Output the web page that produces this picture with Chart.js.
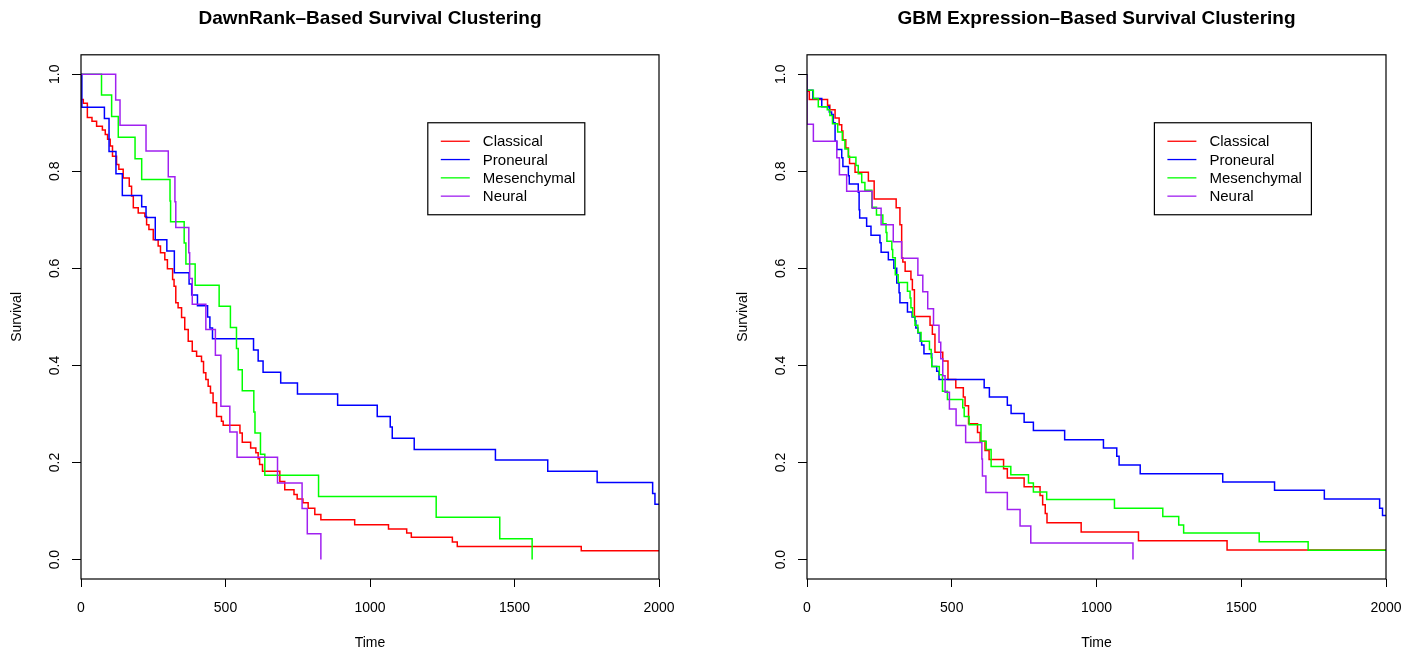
<!DOCTYPE html>
<html>
<head>
<meta charset="utf-8">
<script src="https://cdn.jsdelivr.net/npm/chart.js@4"></script>
<style>
  html, body { margin: 0; padding: 0; background: #fff; }
  #wrap { position: relative; width: 1421px; height: 656px; }
  canvas { position: absolute; top: 0; }
</style>
</head>
<body>
<div id="wrap">
  <canvas id="dawnChart" width="711" height="656" style="left:0"></canvas>
  <canvas id="gbmChart" width="710" height="656" style="left:711px"></canvas>
</div>
<script>
// groups + colours (R: red, blue, green, purple)
var groups = ['Classical', 'Proneural', 'Mesenchymal', 'Neural'];
var groupColors = ['#ff0000', '#0000ff', '#00ff00', '#a020f0'];

var xTicks = [0, 500, 1000, 1500, 2000];
var xTickLabels = ['0', '500', '1000', '1500', '2000'];
var yTicks = [0, 0.2, 0.4, 0.6, 0.8, 1.0];
var yTickLabels = ['0.0', '0.2', '0.4', '0.6', '0.8', '1.0'];

// legend top-left corner, in data units (x = time, y = survival)
var legendAt = [1200, 0.9];

// ---- DawnRank-based clusters (time, survival) ----
var dawnClassicalT = [0, 0, 8, 22, 38, 54, 74, 84, 92, 101, 109, 123, 131, 146, 167, 175, 181, 198, 221, 227, 235, 250, 267, 275, 290, 299, 317, 322, 328, 336, 348, 359, 371, 385, 400, 417, 424, 432, 440, 448, 457, 469, 486, 492, 550, 558, 587, 605, 613, 618, 628, 688, 705, 737, 748, 768, 786, 809, 830, 947, 1064, 1127, 1143, 1285, 1302, 1731, 2000];
var dawnClassicalS = [1, 0.948, 0.94, 0.911, 0.903, 0.893, 0.885, 0.876, 0.866, 0.852, 0.831, 0.814, 0.804, 0.786, 0.769, 0.749, 0.725, 0.714, 0.707, 0.69, 0.68, 0.659, 0.646, 0.632, 0.618, 0.599, 0.577, 0.563, 0.529, 0.519, 0.499, 0.474, 0.45, 0.429, 0.419, 0.408, 0.385, 0.371, 0.357, 0.343, 0.323, 0.295, 0.285, 0.277, 0.261, 0.242, 0.23, 0.22, 0.208, 0.196, 0.182, 0.161, 0.144, 0.134, 0.125, 0.117, 0.106, 0.093, 0.082, 0.072, 0.063, 0.055, 0.046, 0.036, 0.027, 0.018, 0.018];

var dawnProneuralT = [0, 3, 81, 97, 121, 143, 210, 225, 257, 297, 323, 374, 383, 403, 438, 446, 455, 597, 613, 630, 691, 749, 888, 1025, 1070, 1077, 1153, 1434, 1615, 1786, 1978, 1986, 2000];
var dawnProneuralS = [1, 0.932, 0.909, 0.841, 0.795, 0.75, 0.727, 0.705, 0.659, 0.636, 0.591, 0.568, 0.545, 0.523, 0.5, 0.477, 0.455, 0.432, 0.409, 0.386, 0.364, 0.341, 0.318, 0.295, 0.273, 0.25, 0.227, 0.205, 0.182, 0.159, 0.136, 0.114, 0.114];

var dawnMesenchymalT = [0, 71, 106, 129, 187, 210, 308, 310, 357, 363, 395, 478, 517, 538, 544, 558, 598, 602, 621, 636, 822, 1229, 1449, 1561];
var dawnMesenchymalS = [1, 0.957, 0.913, 0.870, 0.826, 0.783, 0.739, 0.696, 0.652, 0.609, 0.565, 0.522, 0.478, 0.435, 0.391, 0.348, 0.304, 0.261, 0.217, 0.174, 0.130, 0.087, 0.043, 0];

var dawnNeuralT = [0, 120, 135, 225, 302, 325, 328, 373, 376, 385, 432, 465, 484, 515, 540, 680, 765, 783, 830];
var dawnNeuralS = [1, 0.947, 0.895, 0.842, 0.789, 0.737, 0.684, 0.632, 0.579, 0.526, 0.474, 0.421, 0.316, 0.263, 0.211, 0.158, 0.105, 0.053, 0];

// ---- GBM expression-based clusters (time, survival) ----
var gbmClassicalT = [0, 0, 8, 71, 79, 97, 111, 120, 124, 134, 143, 147, 166, 212, 232, 308, 321, 327, 331, 339, 359, 364, 371, 425, 433, 442, 469, 487, 514, 540, 546, 558, 589, 598, 615, 629, 679, 692, 750, 805, 814, 823, 829, 947, 1145, 1451, 2000];
var gbmClassicalS = [1, 0.965, 0.948, 0.936, 0.927, 0.91, 0.896, 0.883, 0.865, 0.848, 0.831, 0.816, 0.798, 0.78, 0.743, 0.725, 0.69, 0.622, 0.613, 0.594, 0.577, 0.556, 0.501, 0.483, 0.464, 0.427, 0.409, 0.371, 0.354, 0.335, 0.317, 0.28, 0.262, 0.244, 0.225, 0.206, 0.187, 0.168, 0.15, 0.132, 0.113, 0.095, 0.076, 0.057, 0.039, 0.02, 0.02];

var gbmProneuralT = [0, 0, 20, 51, 77, 85, 91, 97, 103, 120, 124, 143, 146, 177, 180, 182, 206, 221, 252, 256, 281, 300, 310, 318, 321, 347, 363, 373, 376, 383, 391, 396, 404, 431, 448, 456, 612, 630, 692, 705, 750, 782, 890, 1024, 1070, 1078, 1151, 1436, 1615, 1787, 1978, 1988, 2000];
var gbmProneuralS = [1, 0.967, 0.95, 0.933, 0.922, 0.917, 0.9, 0.862, 0.845, 0.828, 0.81, 0.791, 0.774, 0.757, 0.721, 0.704, 0.687, 0.668, 0.653, 0.633, 0.618, 0.6, 0.57, 0.55, 0.529, 0.51, 0.5, 0.492, 0.477, 0.467, 0.45, 0.442, 0.424, 0.398, 0.388, 0.371, 0.354, 0.335, 0.318, 0.301, 0.283, 0.266, 0.247, 0.23, 0.213, 0.195, 0.177, 0.16, 0.143, 0.125, 0.106, 0.091, 0.091];

var gbmMesenchymalT = [0, 0, 22, 39, 70, 79, 88, 106, 122, 131, 143, 169, 177, 189, 200, 224, 240, 262, 273, 276, 293, 296, 305, 315, 347, 356, 359, 365, 373, 383, 394, 423, 429, 431, 457, 468, 485, 538, 543, 560, 601, 619, 636, 704, 765, 782, 828, 1062, 1229, 1284, 1301, 1562, 1731, 2000];
var gbmMesenchymalS = [1, 0.967, 0.95, 0.933, 0.927, 0.915, 0.898, 0.881, 0.864, 0.846, 0.829, 0.812, 0.795, 0.777, 0.761, 0.726, 0.71, 0.692, 0.674, 0.656, 0.639, 0.622, 0.587, 0.571, 0.553, 0.539, 0.519, 0.501, 0.483, 0.468, 0.45, 0.433, 0.416, 0.398, 0.381, 0.347, 0.33, 0.313, 0.295, 0.278, 0.244, 0.227, 0.192, 0.175, 0.158, 0.139, 0.124, 0.106, 0.089, 0.071, 0.055, 0.037, 0.019, 0.019];

var gbmNeuralT = [0, 0, 22, 103, 112, 137, 225, 256, 298, 327, 383, 400, 417, 437, 456, 462, 469, 477, 492, 515, 548, 604, 606, 618, 692, 736, 773, 1126];
var gbmNeuralS = [1, 0.897, 0.862, 0.828, 0.793, 0.759, 0.724, 0.69, 0.655, 0.621, 0.586, 0.552, 0.517, 0.483, 0.448, 0.414, 0.379, 0.345, 0.31, 0.276, 0.241, 0.207, 0.172, 0.138, 0.103, 0.069, 0.034, 0];

Chart.defaults.font.family = '"Liberation Sans", Arial, Helvetica, sans-serif';
Chart.defaults.color = '#000';

// R style box, rotated y labels and legend
var rStylePlugin = {
    id: 'rStyle',
    afterDatasetsDraw: function (chart) {
        var ctx = chart.ctx;
        var a = chart.chartArea;
        var xs = chart.scales.x, ys = chart.scales.y;
        ctx.save();
        ctx.strokeStyle = '#000';
        ctx.lineWidth = 1.2;
        ctx.strokeRect(a.left, a.top, a.right - a.left, a.bottom - a.top);

        ctx.fillStyle = '#000';
        ctx.font = '14px "Liberation Sans", Arial, sans-serif';
        ctx.textAlign = 'center';
        ctx.textBaseline = 'middle';
        yTicks.forEach(function (v, i) {
            ctx.save();
            ctx.translate(a.left - 26, ys.getPixelForValue(v));
            ctx.rotate(-Math.PI / 2);
            ctx.fillText(yTickLabels[i], 0, 0);
            ctx.restore();
        });

        // legend
        var lx = xs.getPixelForValue(legendAt[0]);
        var ly = ys.getPixelForValue(legendAt[1]);
        ctx.fillStyle = '#fff';
        ctx.fillRect(lx, ly, 157, 92);
        ctx.strokeRect(lx, ly, 157, 92);
        ctx.font = '15px "Liberation Sans", Arial, sans-serif';
        ctx.textAlign = 'left';
        groups.forEach(function (g, i) {
            var yy = ly + 18.5 + i * 18.3;
            ctx.strokeStyle = groupColors[i];
            ctx.lineWidth = 1.3;
            ctx.beginPath();
            ctx.moveTo(lx + 13, yy);
            ctx.lineTo(lx + 42, yy);
            ctx.stroke();
            ctx.fillStyle = '#000';
            ctx.fillText(g, lx + 55, yy + 1);
        });
        ctx.restore();
    }
};

function makeChart(id, title, times, survs, padLeft, padRight) {
    var ctx = document.getElementById(id).getContext('2d');
    var datasets = groups.map(function (g, i) {
        return {
            label: g,
            data: times[i].map(function (t, j) { return { x: t, y: survs[i][j] }; }),
            borderColor: groupColors[i],
            borderWidth: 1.5,
            pointRadius: 0,
            stepped: 'before',
            fill: false,
            order: 3 - i
        };
    });
    return new Chart(ctx, {
        type: 'line',
        data: { datasets: datasets },
        plugins: [rStylePlugin],
        options: {
            responsive: false,
            animation: false,
            devicePixelRatio: 1,
            layout: { padding: { left: padLeft, right: padRight, top: 0, bottom: 0 } },
            plugins: {
                legend: { display: false },
                tooltip: { enabled: false },
                title: {
                    display: true,
                    text: title,
                    fullSize: false,
                    color: '#000',
                    font: { size: 19, weight: 'bold' },
                    padding: { top: 7, bottom: 25 }
                }
            },
            scales: {
                x: {
                    type: 'linear',
                    min: 0,
                    max: 2000,
                    afterBuildTicks: function (s) { s.ticks = xTicks.map(function (v) { return { value: v }; }); },
                    afterFit: function (s) { s.height = 77; },
                    grid: { drawOnChartArea: false, drawTicks: true, tickLength: 8, color: '#000' },
                    border: { display: false },
                    ticks: {
                        color: '#000', font: { size: 14 }, padding: 13, maxRotation: 0, autoSkip: false,
                        callback: function (v) { return xTickLabels[xTicks.indexOf(v)]; }
                    },
                    title: { display: true, text: 'Time', color: '#000', font: { size: 14 }, padding: { top: 0, bottom: 4 } }
                },
                y: {
                    type: 'linear',
                    min: -0.04,
                    max: 1.04,
                    afterBuildTicks: function (s) { s.ticks = yTicks.map(function (v) { return { value: v }; }); },
                    afterFit: function (s) { s.width = 81; },
                    grid: { drawOnChartArea: false, drawTicks: true, tickLength: 9, color: '#000' },
                    border: { display: false },
                    ticks: { display: false },
                    title: { display: true, text: 'Survival', color: '#000', font: { size: 14 }, padding: { top: 9, bottom: 0 } }
                }
            }
        }
    });
}

makeChart('dawnChart', 'DawnRank\u2013Based Survival Clustering',
    [dawnClassicalT, dawnProneuralT, dawnMesenchymalT, dawnNeuralT],
    [dawnClassicalS, dawnProneuralS, dawnMesenchymalS, dawnNeuralS], 0, 52);

makeChart('gbmChart', 'GBM Expression\u2013Based Survival Clustering',
    [gbmClassicalT, gbmProneuralT, gbmMesenchymalT, gbmNeuralT],
    [gbmClassicalS, gbmProneuralS, gbmMesenchymalS, gbmNeuralS], 15, 35);
</script>
</body>
</html>
